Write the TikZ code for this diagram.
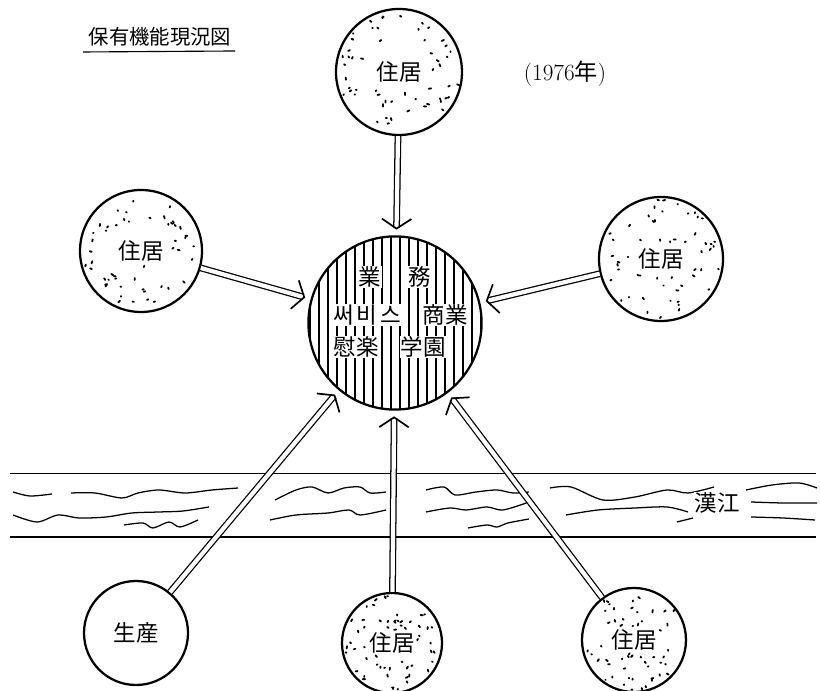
\documentclass[tikz,border=0pt]{standalone}
\usepackage{fontspec}
\newfontfamily\cjk{Noto Sans CJK JP}
\usepackage{tikz}
\usetikzlibrary{arrows,arrows.meta,calc,positioning}

\begin{document}
\begin{tikzpicture}[
  house/.style={circle, draw, line width=1.6pt, inner sep=0pt, font=\cjk\fontsize{16}{19}\selectfont},
  word/.style={fill=white, inner sep=0.6pt, font=\cjk\fontsize{16}{19}\selectfont},
  flow/.style={double, double distance=3pt, line width=0.9pt, -{Straight Barb[length=7pt,width=21pt,line width=1.2pt]}, shorten >=4pt},
  wave/.style={line width=0.9pt},
  speck/.style={line width=1.3pt, line cap=round}]
\useasboundingbox (0,0) rectangle (20.5,17.275);
\pgfmathsetseed{3}
\node[font=\cjk\fontsize{14.5}{17}\selectfont] (t) at (4.0,16.35) {保有機能現況図};
\draw[line width=0.8pt] (2.075,15.975) to (5.875,16.0);
\node[font=\fontsize{16.5}{19}\selectfont] (yr) at (14.125,15.425) {(1976{\cjk 年})};
\node[house, minimum size=3.15cm] (h1) at (9.975,15.475) {住居};
\node[house, minimum size=3.05cm] (h2) at (3.525,11.0) {住居};
\node[house, minimum size=3.1cm] (h3) at (16.525,10.8) {住居};
\node[house, minimum size=2.6cm] (s) at (3.4,1.45) {生産};
\node[house, minimum size=2.5cm] (h4) at (9.8,1.2) {住居};
\node[house, minimum size=2.6cm] (h5) at (15.85,1.275) {住居};
% stipple
\foreach \h in {h1,h2,h3,h4,h5}
  \foreach \i in {1,...,60} {
    \pgfmathtruncatemacro{\a}{360*rnd}
    \pgfmathsetmacro{\f}{sqrt(0.06+0.82*rnd)}
    \pgfmathtruncatemacro{\b}{360*rnd}
    \pgfmathsetmacro{\l}{0.4+1.4*rnd}
    \pgfmathtruncatemacro{\inbox}{and(abs(\f*cos(\a))<0.5, abs(\f*sin(\a))<0.25)}
    \ifnum\inbox=0
      \draw[speck] ($(\h.center)!\f!(\h.\a)$) -- ++(\b:\l pt);
    \fi
  }
% core
\node[circle, draw, line width=1.6pt, minimum size=4.33cm] (c) at (9.875,9.2) {};
\begin{scope}
\clip (9.875,9.2) circle (2.165);
\foreach \x in {7.75,7.975,...,12.1} \draw[line width=0.95pt] (\x,6.9) to (\x,11.5);
\end{scope}
\node[word] (w1) at (9.25,10.35) {業};
\node[word] (w2) at (10.5,10.35) {務};
\node[word] (w3) at (9.175,9.4) {써\hspace{2pt}비\hspace{2pt}스};
\node[word] (w4) at (11.125,9.4) {商業};
\node[word] (w5) at (8.9,8.6) {慰楽};
\node[word] (w6) at (10.575,8.6) {学園};
% river
\draw[line width=1pt] (0.25,5.43) to (20.4,5.43);
\draw[line width=1pt] (0.25,3.85) to (20.4,3.85);
\draw[wave] plot[smooth] coordinates {(0.325,4.975) (0.75,4.875) (1.3,4.925)};
\draw[wave] plot[smooth] coordinates {(1.775,4.95) (2.375,4.95) (3.05,4.825) (3.45,4.95) (3.975,5.025) (4.625,4.95) (5.3,5.025) (5.95,5.075)};
\draw[wave] plot[smooth] coordinates {(0.325,4.4) (0.925,4.225) (1.45,4.4) (1.975,4.325) (2.65,4.35) (3.3,4.45) (3.975,4.475) (4.575,4.5) (5.225,4.6)};
\draw[wave] plot[smooth] coordinates {(3.1,4.15) (3.575,4.2) (3.825,4.075) (4.225,4.225) (4.5,4.1) (4.95,4.275)};
\draw[wave] plot[smooth] coordinates {(6.875,4.775) (7.4,5.025) (7.8,5.1) (8.2,4.95) (8.6,5.075) (9.0,5.1) (9.25,4.95) (9.65,4.975)};
\draw[wave] plot[smooth] coordinates {(6.75,4.275) (7.4,4.4) (8.2,4.45) (8.725,4.525) (9.0,4.4) (9.65,4.525)};
\draw[wave] plot[smooth] coordinates {(10.65,5.025) (11.1,5.1) (11.375,4.9) (11.9,4.975) (12.425,5.025) (12.825,4.95) (13.225,4.975)};
\draw[wave] plot[smooth] coordinates {(10.65,4.475) (11.25,4.575) (11.65,4.525) (12.175,4.6) (12.575,4.525) (13.225,4.725)};
\draw[wave] plot[smooth] coordinates {(11.7,4.075) (12.175,4.15) (12.425,4.1) (12.7,4.2) (13.225,4.3)};
\draw[wave] plot[smooth] coordinates {(13.75,5.075) (14.275,5.1) (15.075,4.775) (15.875,4.85) (16.675,5.025) (17.2,4.95) (17.85,5.1)};
\draw[wave] plot[smooth] coordinates {(14.15,4.4) (14.95,4.525) (15.875,4.575) (16.675,4.6) (17.2,4.475)};
\draw[wave] (16.925,4.225) to (17.325,4.325);
\draw[wave] plot[smooth] coordinates {(18.65,5.025) (19.3,5.15) (19.975,5.2) (20.425,5.075)};
\draw[wave] plot[smooth] coordinates {(18.775,4.725) (19.575,4.7) (20.425,4.7)};
\draw[wave] plot[smooth] coordinates {(18.775,4.35) (19.575,4.325) (20.375,4.275)};
\node[word] (r) at (17.925,4.7) {漢江};
% flows
\draw[flow] (h1) to (c);
\draw[flow] (h2) to (c);
\draw[flow] (h3) to (c);
\draw[flow] (s) to (c);
\draw[flow] (h4) to (c);
\draw[flow] (h5) to (c);
\end{tikzpicture}
\end{document}
